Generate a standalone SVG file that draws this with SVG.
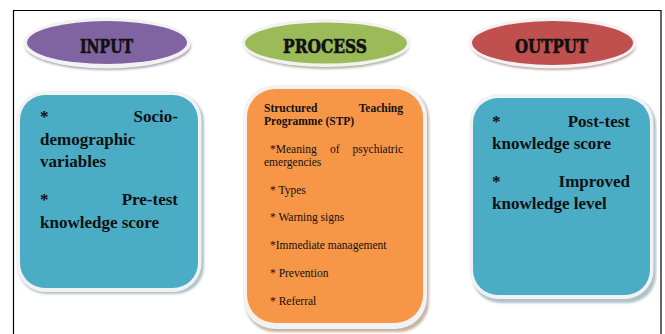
<svg xmlns="http://www.w3.org/2000/svg" width="665" height="334" viewBox="0 0 665 334">
  <defs>
    <filter id="soft" x="-10%" y="-10%" width="120%" height="130%">
      <feGaussianBlur stdDeviation="1.2"/>
    </filter>
    <style>
      .frame { fill: none; stroke: #000; stroke-width: 1.2; }
      .rim { fill: #f2f2f2; }
      .title { font-family: "DejaVu Serif Condensed", "DejaVu Serif", serif; font-weight: bold; font-size: 19px; fill: #111; stroke: #111; stroke-width: 0.6; }
      .big { font-family: "Liberation Serif", "Times New Roman", serif; font-weight: bold; font-size: 17px; fill: #111; }
      .sb { font-family: "Liberation Serif", "Times New Roman", serif; font-weight: bold; font-size: 11.5px; fill: #111; }
      .sr { font-family: "Liberation Serif", "Times New Roman", serif; font-size: 11.5px; fill: #111; }
      .end { text-anchor: end; }
    </style>
  </defs>

  <rect width="665" height="334" fill="#fff"/>

  <!-- page frame -->
  <path class="frame" d="M13.5 334 V10.5 H661 V334"/>

  <!-- header ellipses -->
  <g id="input-head">
    <ellipse cx="108" cy="46" rx="83" ry="24" fill="#8a7d9a" opacity="0.7" filter="url(#soft)"/>
    <ellipse cx="107" cy="43" rx="84" ry="25.5" class="rim"/>
    <ellipse cx="107" cy="42.5" rx="80" ry="21.5" fill="#8064a2"/>
    <text class="title" x="80" y="53" textLength="53" lengthAdjust="spacingAndGlyphs">INPUT</text>
  </g>

  <g id="process-head">
    <ellipse cx="327" cy="46" rx="82" ry="23" fill="#8c9a78" opacity="0.7" filter="url(#soft)"/>
    <ellipse cx="326" cy="43" rx="84.5" ry="24" class="rim"/>
    <ellipse cx="326" cy="43" rx="81" ry="20.5" fill="#9bbb59"/>
    <text class="title" x="283" y="53" textLength="84" lengthAdjust="spacingAndGlyphs">PROCESS</text>
  </g>

  <g id="output-head">
    <ellipse cx="553.5" cy="46" rx="82" ry="24" fill="#a07878" opacity="0.7" filter="url(#soft)"/>
    <ellipse cx="552.5" cy="43" rx="84" ry="25.5" class="rim"/>
    <ellipse cx="552.5" cy="43" rx="80.5" ry="22" fill="#c0504d"/>
    <text class="title" x="515" y="53" textLength="73" lengthAdjust="spacingAndGlyphs">OUTPUT</text>
  </g>

  <!-- content boxes -->
  <g id="input-box">
    <rect x="18" y="94" width="186" height="200" rx="28" fill="#7a9aa4" opacity="0.6" filter="url(#soft)"/>
    <rect x="16.5" y="91" width="185" height="201" rx="29" class="rim"/>
    <rect x="20" y="95" width="178" height="193" rx="25" fill="#4bacc6"/>
    <text class="big" x="40" y="122">*</text>
    <text class="big end" x="178" y="122">Socio-</text>
    <text class="big" x="40" y="145">demographic</text>
    <text class="big" x="40" y="167">variables</text>
    <text class="big" x="40" y="205">*</text>
    <text class="big end" x="178" y="205">Pre-test</text>
    <text class="big" x="40" y="228">knowledge score</text>
  </g>

  <g id="process-box">
    <rect x="245" y="88" width="184" height="244" rx="30" fill="#a08570" opacity="0.6" filter="url(#soft)"/>
    <rect x="243" y="85" width="184" height="244" rx="32" class="rim"/>
    <rect x="247" y="89" width="176" height="234" rx="28" fill="#f79646"/>
    <text class="sb" x="264" y="112">Structured</text>
    <text class="sb end" x="403" y="112">Teaching</text>
    <text class="sb" x="264" y="125">Programme (STP)</text>
    <text class="sr" x="270" y="153">*Meaning</text>
    <text class="sr" x="330" y="153">of</text>
    <text class="sr end" x="403" y="153">psychiatric</text>
    <text class="sr" x="264" y="166">emergencies</text>
    <text class="sr" x="270" y="194">* Types</text>
    <text class="sr" x="270" y="221">* Warning signs</text>
    <text class="sr" x="270" y="249">*Immediate management</text>
    <text class="sr" x="270" y="277">* Prevention</text>
    <text class="sr" x="270" y="305">* Referral</text>
  </g>

  <g id="output-box">
    <rect x="472" y="97" width="184" height="206" rx="28" fill="#7a9aa4" opacity="0.6" filter="url(#soft)"/>
    <rect x="469.5" y="94" width="184" height="205" rx="29" class="rim"/>
    <rect x="473" y="98" width="177" height="197" rx="25" fill="#4bacc6"/>
    <text class="big" x="492" y="127">*</text>
    <text class="big end" x="630" y="127">Post-test</text>
    <text class="big" x="492" y="149">knowledge score</text>
    <text class="big" x="492" y="187">*</text>
    <text class="big end" x="630" y="187">Improved</text>
    <text class="big" x="492" y="209">knowledge level</text>
  </g>

  <!-- no connectors in this figure -->
  <g id="connectors"/>
</svg>
